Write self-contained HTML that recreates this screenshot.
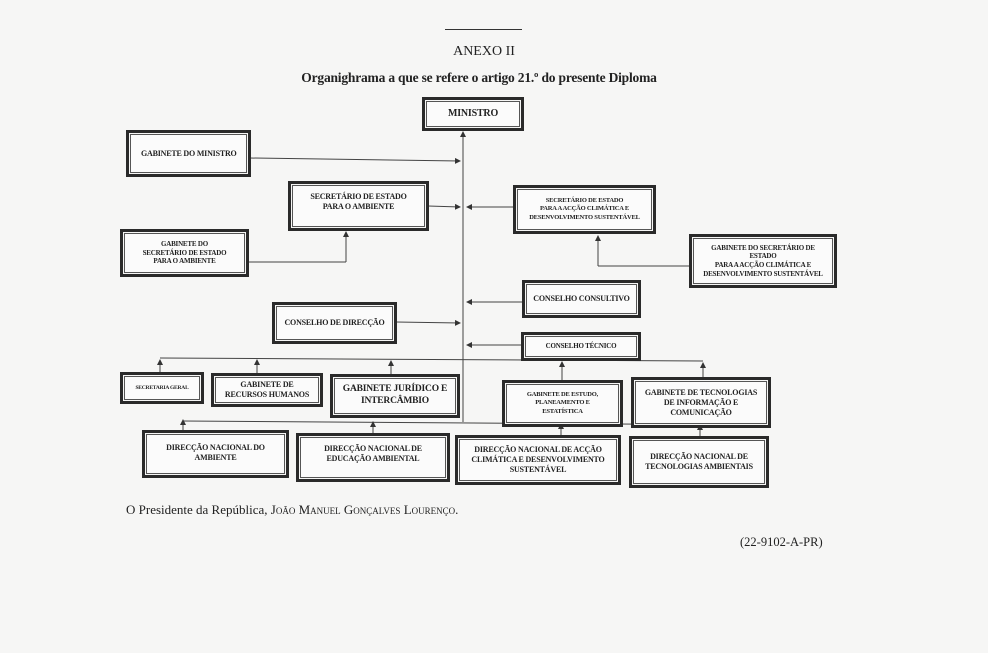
<!DOCTYPE html>
<html><head><meta charset="utf-8"><style>
body{margin:0;width:988px;height:653px;background:#f6f6f5;position:relative;overflow:hidden;font-family:"Liberation Serif",serif;color:#222}
.b{position:absolute;box-sizing:border-box;border:3px solid #2a2a2a;box-shadow:inset 0 0 0 1px #f6f6f5,inset 0 0 0 2px #555;background:#fbfbfb;display:flex;align-items:center;justify-content:center;text-align:center;font-weight:bold;font-size:8px;line-height:1.25;letter-spacing:-0.2px;padding:2px}
.t{position:absolute;white-space:nowrap}
</style></head><body>
<div class="t" style="left:445px;top:29px;width:77px;border-top:1px solid #333"></div>
<div class="t" style="left:0;width:968px;top:44px;text-align:center;font-size:14px">ANEXO II</div>
<div class="t" style="left:0;width:958px;top:70px;text-align:center;font-size:13.5px;font-weight:bold;letter-spacing:-0.2px">Organighrama a que se refere o artigo 21.º do presente Diploma</div>

<svg style="position:absolute;left:0;top:0" width="988" height="653">
<defs><marker id="a" markerWidth="6" markerHeight="6" refX="5" refY="3" orient="auto"><path d="M0,0L6,3L0,6z" fill="#333"/></marker></defs>
<g stroke="#444" stroke-width="1" fill="none">
<line x1="463" y1="422" x2="463" y2="132" marker-end="url(#a)"/>
<line x1="250" y1="158" x2="460" y2="161" marker-end="url(#a)"/>
<line x1="428" y1="206" x2="460" y2="207" marker-end="url(#a)"/>
<line x1="513" y1="207" x2="467" y2="207" marker-end="url(#a)"/>
<line x1="248" y1="262" x2="346" y2="262"/><line x1="346" y1="262" x2="346" y2="232" marker-end="url(#a)"/>
<line x1="689" y1="266" x2="598" y2="266"/><line x1="598" y1="266" x2="598" y2="236" marker-end="url(#a)"/>
<line x1="522" y1="302" x2="467" y2="302" marker-end="url(#a)"/>
<line x1="396" y1="322" x2="460" y2="323" marker-end="url(#a)"/>
<line x1="521" y1="345" x2="467" y2="345" marker-end="url(#a)"/>
<line x1="160" y1="358" x2="703" y2="361"/>
<line x1="160" y1="372" x2="160" y2="360" marker-end="url(#a)"/>
<line x1="257" y1="373" x2="257" y2="360" marker-end="url(#a)"/>
<line x1="391" y1="374" x2="391" y2="361" marker-end="url(#a)"/>
<line x1="562" y1="380" x2="562" y2="362" marker-end="url(#a)"/>
<line x1="703" y1="377" x2="703" y2="363" marker-end="url(#a)"/>
<line x1="183" y1="421" x2="770" y2="425"/>
<line x1="183" y1="430" x2="183" y2="420" marker-end="url(#a)"/>
<line x1="373" y1="433" x2="373" y2="422" marker-end="url(#a)"/>
<line x1="561" y1="435" x2="561" y2="424" marker-end="url(#a)"/>
<line x1="700" y1="436" x2="700" y2="425" marker-end="url(#a)"/>
</g></svg>

<div class="b" style="left:422px;top:97px;width:102px;height:34px;font-size:10px">MINISTRO</div>
<div class="b" style="left:126px;top:130px;width:125px;height:47px;justify-content:flex-start;padding-left:12px">GABINETE DO MINISTRO</div>
<div class="b" style="left:288px;top:181px;width:141px;height:50px;align-items:flex-start;padding-top:8px">SECRETÁRIO DE ESTADO<br>PARA O AMBIENTE</div>
<div class="b" style="left:513px;top:185px;width:143px;height:49px;font-size:6.5px">SECRETÁRIO DE ESTADO<br>PARA A ACÇÃO CLIMÁTICA E<br>DESENVOLVIMENTO SUSTENTÁVEL</div>
<div class="b" style="left:120px;top:229px;width:129px;height:48px;font-size:7px">GABINETE DO<br>SECRETÁRIO DE ESTADO<br>PARA O AMBIENTE</div>
<div class="b" style="left:689px;top:234px;width:148px;height:54px;font-size:7px">GABINETE DO SECRETÁRIO DE<br>ESTADO<br>PARA A ACÇÃO CLIMÁTICA E<br>DESENVOLVIMENTO SUSTENTÁVEL</div>
<div class="b" style="left:522px;top:280px;width:119px;height:38px">CONSELHO CONSULTIVO</div>
<div class="b" style="left:272px;top:302px;width:125px;height:42px">CONSELHO DE DIRECÇÃO</div>
<div class="b" style="left:521px;top:332px;width:120px;height:29px;font-size:7px">CONSELHO TÉCNICO</div>
<div class="b" style="left:120px;top:372px;width:84px;height:32px;font-size:5.5px">SECRETARIA GERAL</div>
<div class="b" style="left:211px;top:373px;width:112px;height:34px">GABINETE DE<br>RECURSOS HUMANOS</div>
<div class="b" style="left:330px;top:374px;width:130px;height:44px;font-size:9.5px">GABINETE JURÍDICO E<br>INTERCÂMBIO</div>
<div class="b" style="left:502px;top:380px;width:121px;height:47px;font-size:6.5px">GABINETE DE ESTUDO,<br>PLANEAMENTO E<br>ESTATÍSTICA</div>
<div class="b" style="left:631px;top:377px;width:140px;height:51px">GABINETE DE TECNOLOGIAS<br>DE INFORMAÇÃO E<br>COMUNICAÇÃO</div>
<div class="b" style="left:142px;top:430px;width:147px;height:48px;align-items:flex-start;padding-top:10px">DIRECÇÃO NACIONAL DO<br>AMBIENTE</div>
<div class="b" style="left:296px;top:433px;width:154px;height:49px;align-items:flex-start;padding-top:8px">DIRECÇÃO NACIONAL DE<br>EDUCAÇÃO AMBIENTAL</div>
<div class="b" style="left:455px;top:435px;width:166px;height:50px">DIRECÇÃO NACIONAL DE ACÇÃO<br>CLIMÁTICA E DESENVOLVIMENTO<br>SUSTENTÁVEL</div>
<div class="b" style="left:629px;top:436px;width:140px;height:52px">DIRECÇÃO NACIONAL DE<br>TECNOLOGIAS AMBIENTAIS</div>

<div class="t" style="left:126px;top:502px;font-size:13px">O Presidente da República, <span style="font-variant:small-caps">João Manuel Gonçalves Lourenço</span>.</div>
<div class="t" style="left:740px;top:535px;font-size:12.5px">(22-9102-A-PR)</div>
</body></html>
